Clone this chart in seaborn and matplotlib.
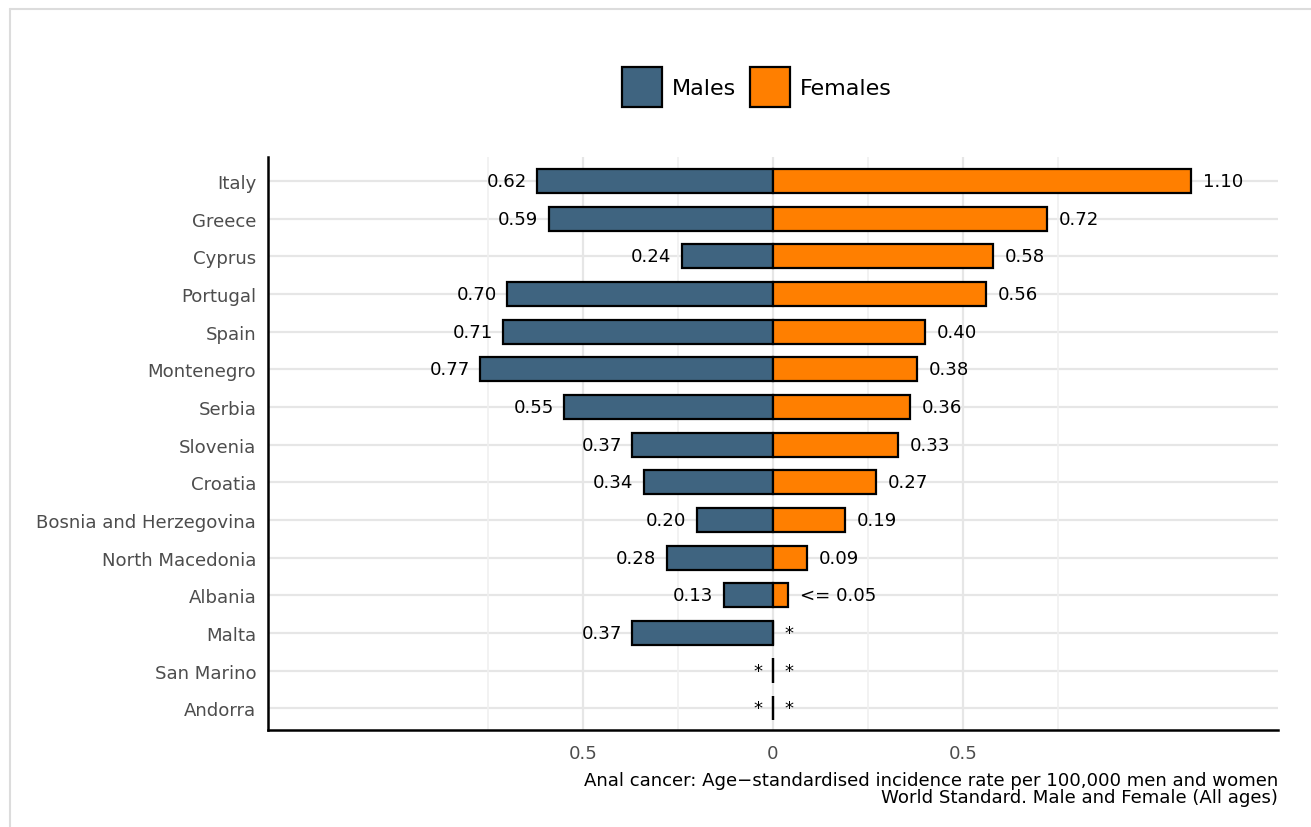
import numpy as np
import pandas as pd
import matplotlib
matplotlib.use("Agg")
import matplotlib.pyplot as plt
from matplotlib.lines import Line2D
from matplotlib.patches import Patch
import seaborn as sns

countries = ["Italy", "Greece", "Cyprus", "Portugal", "Spain", "Montenegro", "Serbia",
             "Slovenia", "Croatia", "Bosnia and Herzegovina", "North Macedonia", "Albania",
             "Malta", "San Marino", "Andorra"]
males = [0.62, 0.59, 0.24, 0.70, 0.71, 0.77, 0.55, 0.37, 0.34, 0.20, 0.28, 0.13, 0.37, 0.0, 0.0]
females = [1.10, 0.72, 0.58, 0.56, 0.40, 0.38, 0.36, 0.33, 0.27, 0.19, 0.09, 0.04, 0.0, 0.0, 0.0]
male_labels = ["0.62", "0.59", "0.24", "0.70", "0.71", "0.77", "0.55", "0.37", "0.34",
               "0.20", "0.28", "0.13", "0.37", "*", "*"]
female_labels = ["1.10", "0.72", "0.58", "0.56", "0.40", "0.38", "0.36", "0.33", "0.27",
                 "0.19", "0.09", "<= 0.05", "*", "*", "*"]
sexes = ["Males", "Females"]
colors = {"Males": "#3f6480", "Females": "#ff7f00"}
xticks = [-0.5, 0, 0.5]
xticklabels = ["0.5", "0", "0.5"]
caption1 = "Anal cancer: Age\u2212standardised incidence rate per 100,000 men and women"
caption2 = "World Standard. Male and Female (All ages)"

df = pd.DataFrame({
    "country": countries * 2,
    "sex": ["Males"] * len(countries) + ["Females"] * len(countries),
    "value": [-v for v in males] + list(females),
})

sns.set_theme(style="white")
plt.rcParams["font.family"] = ["DejaVu Sans"]
plt.rcParams["text.color"] = "black"

FS = 13.05

fig = plt.figure(figsize=(13.11, 8.28), dpi=100)
ax = fig.add_axes([268 / 1311, 1 - 731 / 828, (1278 - 268) / 1311, (731 - 158) / 828])

# grid
grid_c = "#e6e6e6"
for i in range(len(countries)):
    ax.axhline(i, color=grid_c, lw=1.6, zorder=0)
for xv in [-0.75, -0.25, 0.25, 0.75]:
    ax.axvline(xv, color="#f0f0f0", lw=1.2, zorder=0)
for xv in [-0.5, 0, 0.5]:
    ax.axvline(xv, color=grid_c, lw=1.6, zorder=0)

sns.barplot(data=df, y="country", x="value", hue="sex", hue_order=sexes, palette=colors,
            dodge=False, width=0.64, edgecolor="black", linewidth=1.6, orient="h",
            legend=False, ax=ax, zorder=2, saturation=1)

for i in range(len(countries)):
    ax.annotate(male_labels[i], (-males[i], i), xytext=(-7.5, 0), textcoords="offset points",
                ha="right", va="center", fontsize=FS, color="black")
    ax.annotate(female_labels[i], (females[i], i), xytext=(8.5, 0), textcoords="offset points",
                ha="left", va="center", fontsize=FS, color="black")

ax.set_xlim(-1.329, 1.329)
ax.set_ylim(len(countries) - 1 + 0.58, -0.64)
ax.set_xticks(xticks)
ax.set_xticklabels(xticklabels)
ax.set_xlabel("")
ax.set_ylabel("")
ax.tick_params(axis="both", length=0, labelsize=FS, labelcolor="#4d4d4d")
ax.tick_params(axis="y", pad=8.5)
ax.tick_params(axis="x", pad=10)
for s in ["top", "right"]:
    ax.spines[s].set_visible(False)
for s in ["left", "bottom"]:
    ax.spines[s].set_color("black")
    ax.spines[s].set_linewidth(1.8)

handles = [Patch(facecolor=colors[s], edgecolor="black", linewidth=1.6, label=s) for s in sexes]
leg = fig.legend(handles=handles, loc="center", bbox_to_anchor=(757 / 1311, 1 - 88 / 828),
                 ncol=2, frameon=False, fontsize=16, handlelength=1.8, handleheight=2.4,
                 handletextpad=0.45, columnspacing=0.6)
for t in leg.get_texts():
    t.set_color("black")

fig.text(1278 / 1311, 1 - 781 / 828, caption1, ha="right", va="center", fontsize=FS, color="black")
fig.text(1278 / 1311, 1 - 798 / 828, caption2, ha="right", va="center", fontsize=FS, color="black")

# outer frame
fig.add_artist(Line2D([10 / 1311, 1.0], [1 - 10 / 828, 1 - 10 / 828], transform=fig.transFigure,
                      color="#dcdcdc", lw=1.5))
fig.add_artist(Line2D([10 / 1311, 10 / 1311], [0, 1 - 10 / 828], transform=fig.transFigure,
                      color="#dcdcdc", lw=1.5))

fig.savefig("out.png", dpi=100, facecolor="white")
